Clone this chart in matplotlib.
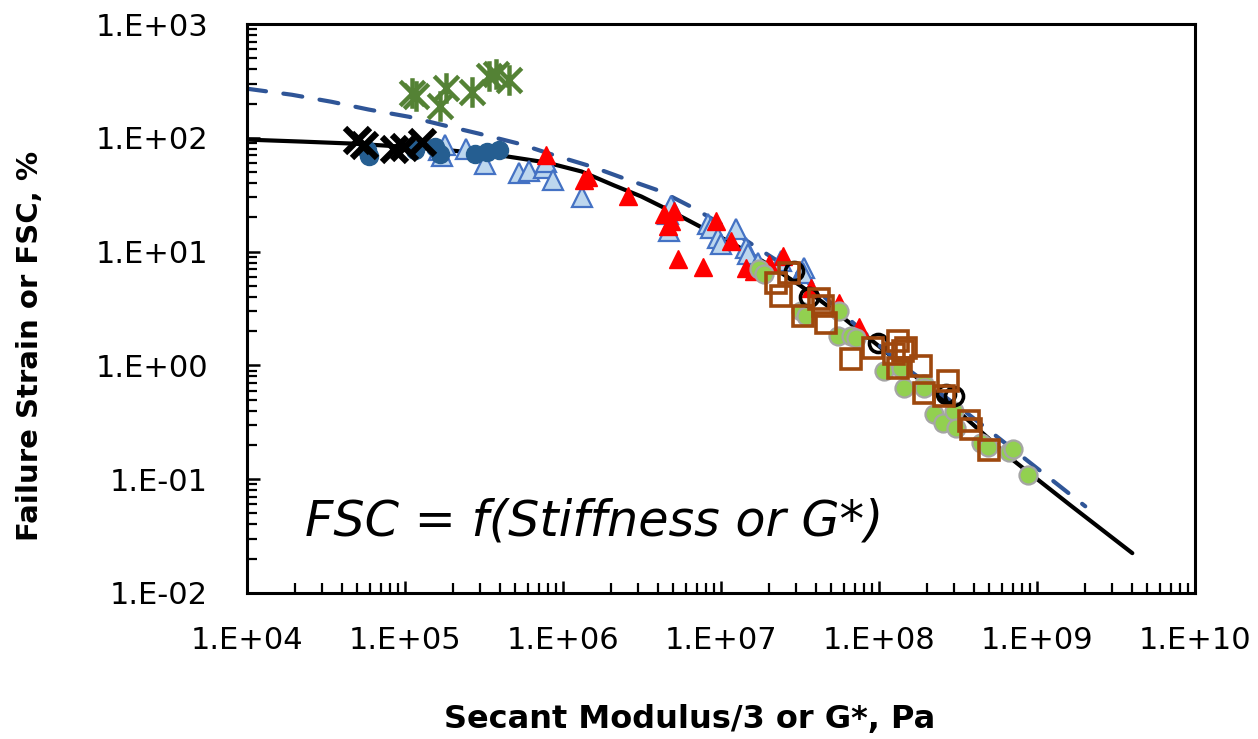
import math
import matplotlib
matplotlib.use("Agg")
import matplotlib.pyplot as plt
from matplotlib.path import Path
from matplotlib.ticker import FixedLocator, FuncFormatter, NullFormatter

plt.rcParams['font.family'] = ['DejaVu Sans']

# ---------------- data ----------------
# green asterisks
ast_x = [1.10e5, 1.17e5, 1.66e5, 1.83e5, 2.64e5, 3.38e5, 3.74e5, 4.52e5]
ast_y = [249, 234, 191, 275, 254, 350, 365, 323]

# black crosses
crs_x = [4.95e4, 5.48e4, 8.48e4, 9.81e4, 1.28e5]
crs_y = [96.4, 87.2, 80.4, 83.7, 92.6]

# dark blue circles
dbc_x = [5.73e4, 5.90e4, 1.15e5, 1.54e5, 1.66e5, 2.76e5, 3.28e5, 3.96e5]
dbc_y = [78.8, 69.8, 78.8, 83.7, 72.7, 72.7, 75.7, 78.8]

# light blue triangles
lbt_x = [1.63e5, 1.78e5, 2.45e5, 1.71e5, 3.19e5, 5.23e5, 6.05e5, 7.63e5, 7.85e5, 8.70e5,
         1.31e6, 4.63e6, 4.84e6, 4.70e6, 8.29e6, 8.66e6, 9.59e6, 1.00e7, 1.25e7, 1.44e7,
         1.48e7, 1.71e7, 2.40e7, 3.35e7, 3.30e7]
lbt_y = [78.8, 87.2, 80.4, 68.5, 58.3, 48.6, 50.6, 54.8, 61.9, 43.0,
         29.9, 21.3, 25.0, 15.1, 17.4, 16.0, 13.1, 11.6, 15.7, 10.7,
         9.49, 7.91, 8.24, 7.15, 6.47]

# red triangles
rdt_x = [7.85e5, 1.35e6, 1.45e6, 2.59e6, 4.37e6, 5.06e6, 4.63e6, 4.84e6, 9.31e6, 1.16e7,
         5.36e6, 7.71e6, 1.44e7, 1.62e7, 2.01e7, 2.47e7, 3.71e7, 5.57e7, 7.45e7]
rdt_y = [71.2, 43.0, 44.8, 30.5, 21.3, 22.6, 16.7, 18.5, 18.5, 12.3,
         8.58, 7.30, 7.15, 6.73, 7.76, 9.11, 4.78, 3.53, 2.18]

# green circles
grc_x = [1.74e7, 1.87e7, 3.21e7, 3.45e7, 5.57e7, 5.49e7, 6.64e7, 7.13e7, 1.07e8, 1.37e8,
         1.43e8, 1.92e8, 1.92e8, 2.22e8, 2.53e8, 2.97e8, 3.05e8, 4.40e8, 4.87e8, 6.61e8,
         7.10e8, 8.71e8]
grc_y = [7.01, 6.34, 3.01, 2.72, 3.01, 1.82, 1.82, 1.74, 0.897, 0.952,
         0.637, 0.690, 0.637, 0.377, 0.314, 0.400, 0.284, 0.206, 0.190, 0.172,
         0.186, 0.108]

# black open circles
boc_x = [2.89e7, 3.60e7, 9.83e7, 2.64e8, 2.97e8]
boc_y = [6.73, 3.99, 1.58, 0.564, 0.542]

# brown open squares
brs_x = [2.23e7, 2.69e7, 2.40e7, 3.30e7, 4.17e7, 4.42e7, 4.61e7, 6.64e7, 9.14e7, 1.31e8,
         1.24e8, 1.41e8, 1.48e8, 1.84e8, 1.31e8, 1.92e8, 2.72e8, 2.56e8, 3.69e8, 3.80e8,
         4.94e8]
brs_y = [5.29, 6.47, 4.07, 2.72, 3.83, 3.32, 2.36, 1.14, 1.43, 1.64,
         1.26, 1.34, 1.43, 0.99, 0.952, 0.575, 0.733, 0.542, 0.327, 0.278,
         0.179]

# fitted curves
fit_x = [1.0e4, 2.23e4, 4.61e4, 9.53e4, 1.97e5, 4.08e5, 7.85e5, 1.31e6, 2.11e6, 3.13e6,
         4.84e6, 7.49e6, 1.21e7, 2.07e7, 3.21e7, 5.74e7, 9.97e7, 1.84e8, 3.29e8, 7.10e8,
         1.63e9, 4.01e9]
fit_y = [96.4, 92.6, 89.0, 83.7, 77.3, 69.8, 60.7, 50.6, 38.1, 30.5,
         22.6, 16.4, 11.6, 7.45, 4.98, 2.72, 1.48, 0.733, 0.377, 0.146,
         0.0589, 0.0224]

dash_x = [1.0e4, 1.92e4, 3.44e4, 5.90e4, 1.06e5, 1.71e5, 2.92e5, 5.23e5, 9.35e5, 1.51e6,
          2.44e6, 4.18e6, 6.76e6, 1.11e7, 1.71e7, 3.21e7, 6.64e7, 1.37e8, 3.64e8, 8.21e8,
          2.02e9]
dash_y = [270, 239, 207, 177, 153, 130, 109, 89.0, 68.4, 56.0,
          43.9, 33.8, 24.0, 16.0, 10.7, 6.09, 2.46, 1.03, 0.377, 0.155,
          0.0578]

xticks = [1e4, 1e5, 1e6, 1e7, 1e8, 1e9, 1e10]
yticks = [1e-2, 1e-1, 1e0, 1e1, 1e2, 1e3]
xlabel = "Secant Modulus/3 or G*, Pa"
ylabel = "Failure Strain or FSC, %"
note = "FSC = f(Stiffness or G*)"

# ---------------- figure ----------------
W, H = 1258, 739
fig = plt.figure(figsize=(W / 100, H / 100), dpi=100)
ax = fig.add_axes([247 / W, 1 - 593 / H, (1195 - 247) / W, (593 - 24) / H])
ax.set_xscale('log')
ax.set_yscale('log')
ax.set_xlim(xticks[0], xticks[-1])
ax.set_ylim(yticks[0], yticks[-1])

star = Path([(-0.8, -0.8), (0.8, 0.8), (-0.8, 0.8), (0.8, -0.8), (0, -1.0), (0, 1.0)],
            [Path.MOVETO, Path.LINETO, Path.MOVETO, Path.LINETO, Path.MOVETO, Path.LINETO])

# curves
ax.plot(fit_x, fit_y, color='black', lw=3.0, zorder=2, solid_capstyle='round')
ax.plot(dash_x, dash_y, color='#2F5597', lw=3.0, ls=(0, (4.6, 4.2)), zorder=2,
        dash_capstyle='round')

ms = 14
ax.plot(lbt_x, lbt_y, ls='none', marker='^', ms=ms + 1, mfc='#BDD7EE', mec='#4472C4', mew=1.6, zorder=3)
ax.plot(dbc_x, dbc_y, ls='none', marker='o', ms=ms - 1, mfc='#255E91', mec='#255E91', zorder=4)
ax.plot(crs_x, crs_y, ls='none', marker='x', ms=ms + 4, mec='black', mew=4.5, zorder=4)
ax.plot(ast_x, ast_y, ls='none', marker=star, ms=ms + 8, mfc='none', mec='#548235', mew=3.2, zorder=4)
ax.plot(rdt_x, rdt_y, ls='none', marker='^', ms=ms - 1, mfc='#FF0000', mec='#FF0000', mew=1, zorder=4)
ax.plot(grc_x, grc_y, ls='none', marker='o', ms=ms - 1, mfc='#92D050', mec='#A5A5A5', mew=1.6, zorder=4)
ax.plot(boc_x, boc_y, ls='none', marker='o', ms=ms - 1, mfc='none', mec='black', mew=2.6, zorder=5)
ax.plot(brs_x, brs_y, ls='none', marker='s', ms=ms, mfc='none', mec='#9E480E', mew=2.6, zorder=5)

# axes styling
for s in ax.spines.values():
    s.set_linewidth(2.2)
    s.set_color('black')

fmt = FuncFormatter(lambda v, p: "1.E%+03d" % round(math.log10(v)))
minor_x = [m * 10.0 ** e for e in range(4, 10) for m in range(2, 10)]
minor_y = [m * 10.0 ** e for e in range(-2, 3) for m in range(2, 10)]
ax.xaxis.set_major_locator(FixedLocator(xticks))
ax.yaxis.set_major_locator(FixedLocator(yticks))
ax.xaxis.set_minor_locator(FixedLocator(minor_x))
ax.yaxis.set_minor_locator(FixedLocator(minor_y))
ax.xaxis.set_major_formatter(fmt)
ax.yaxis.set_major_formatter(fmt)
ax.xaxis.set_minor_formatter(NullFormatter())
ax.yaxis.set_minor_formatter(NullFormatter())
ax.tick_params(which='major', direction='in', length=9, width=1.8, labelsize=22, colors='black')
ax.tick_params(which='minor', direction='in', length=7, width=1.6)
ax.tick_params(axis='y', pad=28)
ax.tick_params(axis='x', pad=24)

fig.text(690 / W, 1 - 728 / H, xlabel, fontsize=23, fontweight='bold', ha='center', va='baseline')
fig.text(30 / W, 1 - 346 / H, ylabel, fontsize=21, fontweight='bold', ha='center', va='center',
         rotation=90)

fig.text(305 / W, 1 - 535 / H, note, fontsize=35.5, style='italic',
         ha='left', va='baseline', color='black')

fig.savefig('out.png', dpi=100, facecolor='white')
